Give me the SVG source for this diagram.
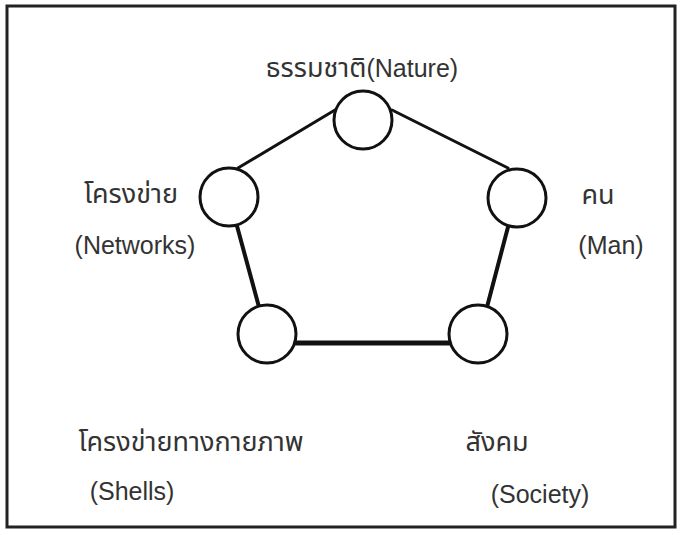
<svg xmlns="http://www.w3.org/2000/svg" width="680" height="535" viewBox="0 0 680 535">
<style>
.node circle{fill:#fff;stroke:#111;stroke-width:3}
.lbl{font-family:"Liberation Sans","Noto Sans Thai","Noto Sans",sans-serif;font-size:25px;fill:#333}
.th{font-size:27px}
.edge{stroke:#111;fill:none;stroke-linecap:round}
</style>
<rect x="7" y="6" width="668" height="521" fill="#fff" stroke="#222" stroke-width="3"/>
<g id="connectors">
<line class="edge" x1="238" y1="168" x2="335" y2="110" stroke-width="3"/>
<line class="edge" x1="392" y1="110" x2="508" y2="168" stroke-width="3"/>
<line class="edge" x1="237" y1="226" x2="259" y2="307" stroke-width="4"/>
<line class="edge" x1="508" y1="227" x2="487" y2="307" stroke-width="4"/>
<line class="edge" x1="296" y1="343" x2="449" y2="343" stroke-width="5"/>
</g>
<g id="nature" class="node">
<circle cx="363" cy="120" r="29"/>
<text class="lbl" x="362" y="77" text-anchor="middle"><tspan class="th">ธรรมชาติ</tspan>(Nature)</text>
</g>
<g id="networks" class="node">
<circle cx="229" cy="197" r="29"/>
<text class="lbl th" x="131" y="203" text-anchor="middle">โครงข่าย</text>
<text class="lbl" x="135" y="254" text-anchor="middle">(Networks)</text>
</g>
<g id="man" class="node">
<circle cx="517" cy="198" r="29"/>
<text class="lbl th" x="598" y="204" text-anchor="middle">คน</text>
<text class="lbl" x="611" y="254" text-anchor="middle">(Man)</text>
</g>
<g id="shells" class="node">
<circle cx="267" cy="334" r="29"/>
<text class="lbl th" x="191" y="451" text-anchor="middle">โครงข่ายทางกายภาพ</text>
<text class="lbl" x="132" y="500" text-anchor="middle">(Shells)</text>
</g>
<g id="society" class="node">
<circle cx="478" cy="334" r="29"/>
<text class="lbl th" x="497" y="451" text-anchor="middle">สังคม</text>
<text class="lbl" x="540" y="503" text-anchor="middle">(Society)</text>
</g>
</svg>
